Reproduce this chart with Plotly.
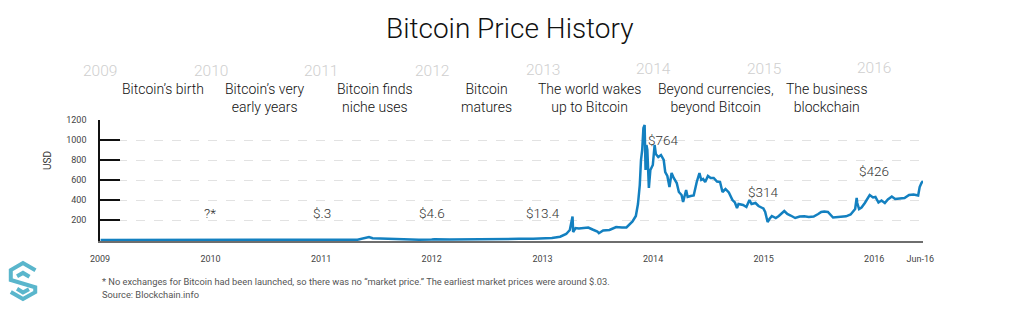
import plotly.graph_objects as go

# ---------------- data ----------------
dates = [
    "2009-01-03", "2009-06-01", "2010-01-01", "2010-07-17", "2010-11-01",
    "2011-01-01", "2011-02-10", "2011-04-01", "2011-05-01", "2011-06-08",
    "2011-06-20", "2011-07-15", "2011-08-15", "2011-09-15", "2011-10-20",
    "2011-11-20", "2012-01-01", "2012-01-10", "2012-03-01", "2012-05-01",
    "2012-06-15", "2012-08-15", "2012-09-01", "2012-10-15", "2012-12-01",
    "2013-01-01", "2013-02-01", "2013-02-28", "2013-03-20", "2013-04-01",
    "2013-04-10", "2013-04-12", "2013-04-20", "2013-05-01", "2013-05-15",
    "2013-06-01", "2013-06-15", "2013-07-01", "2013-07-06", "2013-07-20",
    "2013-08-10", "2013-09-01", "2013-09-20", "2013-10-05", "2013-10-25",
    "2013-11-05", "2013-11-12", "2013-11-18", "2013-11-22", "2013-11-26",
    "2013-11-30", "2013-12-04", "2013-12-07", "2013-12-10", "2013-12-13",
    "2013-12-18", "2013-12-23", "2013-12-31", "2014-01-06", "2014-01-10",
    "2014-01-18", "2014-01-27", "2014-02-05", "2014-02-10", "2014-02-17",
    "2014-02-24", "2014-03-03", "2014-03-10", "2014-03-20", "2014-03-27",
    "2014-04-05", "2014-04-10", "2014-04-20", "2014-04-25", "2014-05-05",
    "2014-05-15", "2014-05-25", "2014-06-03", "2014-06-09", "2014-06-15",
    "2014-06-22", "2014-07-01", "2014-07-10", "2014-07-20", "2014-07-31",
    "2014-08-10", "2014-08-18", "2014-08-28", "2014-09-08", "2014-09-20",
    "2014-09-28", "2014-10-05", "2014-10-10", "2014-10-25", "2014-11-05",
    "2014-11-15", "2014-11-22", "2014-12-05", "2014-12-15", "2014-12-31",
    "2015-01-06", "2015-01-14", "2015-01-20", "2015-01-28", "2015-02-10",
    "2015-02-20", "2015-03-10", "2015-03-20", "2015-03-31", "2015-04-15",
    "2015-04-30", "2015-05-15", "2015-05-30", "2015-06-15", "2015-06-30",
    "2015-07-10", "2015-07-20", "2015-08-01", "2015-08-18", "2015-08-30",
    "2015-09-15", "2015-09-30", "2015-10-15", "2015-10-30", "2015-11-04",
    "2015-11-06", "2015-11-12", "2015-11-20", "2015-12-01", "2015-12-10",
    "2015-12-17", "2015-12-28", "2016-01-05", "2016-01-15", "2016-01-25",
    "2016-02-05", "2016-02-15", "2016-02-28", "2016-03-10", "2016-03-25",
    "2016-04-10", "2016-04-25", "2016-05-10", "2016-05-25", "2016-05-30",
    "2016-06-05", "2016-06-10",
]
prices = [
    0, 0, 0, 0.05, 0.3,
    0.3, 1, 0.8, 3, 30,
    17, 14, 11, 5, 2.5,
    2.5, 5, 7, 5, 5,
    6.5, 12, 10, 12, 13,
    13.4, 20, 33, 60, 100,
    235, 80, 120, 115, 120,
    125, 105, 85, 68, 95,
    100, 130, 125, 125, 185,
    240, 360, 550, 800, 900,
    1120, 1150, 700, 950, 900,
    520, 700, 750, 950, 860,
    830, 850, 800, 680, 640,
    530, 670, 620, 570, 480,
    450, 380, 500, 430, 440,
    445, 580, 670, 600, 610,
    580, 640, 620, 620, 585,
    580, 480, 510, 475, 400,
    375, 320, 360, 350, 330,
    400, 360, 370, 340, 315,
    280, 180, 210, 240, 220,
    240, 290, 260, 245, 220,
    235, 237, 230, 235, 260,
    280, 285, 280, 225, 230,
    230, 237, 255, 310, 420,
    370, 310, 325, 370, 420,
    450, 425, 430, 375, 395,
    370, 405, 435, 410, 415,
    420, 450, 455, 445, 530,
    570, 590,
]

x_tick_vals = ["2009-01-01", "2010-01-01", "2011-01-01", "2012-01-01", "2013-01-01",
               "2014-01-01", "2015-01-01", "2016-01-01", "2016-06-01"]
x_tick_text = ["2009", "2010", "2011", "2012", "2013", "2014", "2015", "2016", "Jun-16"]
y_tick_vals = [200, 400, 600, 800, 1000, 1200]

top_years = ["2009", "2010", "2011", "2012", "2013", "2014", "2015", "2016"]
eras = ["Bitcoin’s birth", "Bitcoin’s very<br>early years", "Bitcoin finds<br>niche uses",
        "Bitcoin<br>matures", "The world wakes<br>up to Bitcoin",
        "Beyond currencies,<br>beyond Bitcoin", "The business<br>blockchain"]
price_labels = ["?*", "$.3", "$4.6", "$13.4", "$764", "$314", "$426"]

FONT = "Roboto"
BLUE = "#1380c0"

# plot area in pixels
L, R, T, B = 100, 923, 120, 241
W, H = 1024, 310


def px(x):
    return (x - L) / (R - L)


def py(y):
    return (B - y) / (B - T)


fig = go.Figure()
fig.add_trace(go.Scatter(x=dates, y=prices, mode="lines",
                         line=dict(color=BLUE, width=2.5), hoverinfo="skip"))

ann = []
# title
ann.append(dict(text="Bitcoin Price History", x=px(510), y=py(28), xref="paper", yref="paper",
                showarrow=False, font=dict(family=FONT, size=28, color="#111", weight=300),
                xanchor="center", yanchor="middle"))
# top year labels
top_y = [71, 71, 71, 71, 70, 69, 69, 68]
for yr, yy in zip(top_years, top_y):
    ann.append(dict(text=yr, x=f"{yr}-01-01", y=py(yy), xref="x", yref="paper",
                    showarrow=False, font=dict(family=FONT, size=15.5, color="#cfcfcf", weight=300),
                    xanchor="center", yanchor="middle"))
# era labels
era_x = [163, 265, 375, 486, 589, 716, 827]
for t, ex in zip(eras, era_x):
    ann.append(dict(text=t, x=px(ex), y=py(79), xref="paper", yref="paper",
                    showarrow=False, font=dict(family=FONT, size=14, color="#111", weight=300),
                    xanchor="center", yanchor="top", align="center"))
# price labels on the chart
lab_pos = [(210, 213), (322, 213), (432, 213), (543, 213), (663, 140), (763, 192), (874, 171)]
for t, (lx, ly) in zip(price_labels, lab_pos):
    ann.append(dict(text=t, x=px(lx), y=py(ly), xref="paper", yref="paper",
                    showarrow=False, font=dict(family=FONT, size=13.5, color="#333", weight=300),
                    xanchor="center", yanchor="middle"))
# axis title
ann.append(dict(text="USD", x=px(47), y=py(161), xref="paper", yref="paper", textangle=-90,
                showarrow=False, font=dict(family=FONT, size=10, color="#333"),
                xanchor="center", yanchor="middle"))
# footnotes
ann.append(dict(text="* No exchanges for Bitcoin had been launched, so there was no “market price.” "
                     "The earliest market prices were around $.03.",
                x=px(100), y=py(281), xref="paper", yref="paper", showarrow=False,
                font=dict(family=FONT, size=9.3, color="#555"), xanchor="left", yanchor="middle"))
ann.append(dict(text="Source: Blockchain.info", x=px(100), y=py(294), xref="paper", yref="paper",
                showarrow=False, font=dict(family=FONT, size=9.3, color="#555"),
                xanchor="left", yanchor="middle"))


# logo (S made of hexagon strokes)
def lp(zx, zy):
    return px(10 + (zx - 35) * 0.26), py(262 + (zy - 15) * 0.26)


def path(pts):
    s = ""
    for i, (a, b) in enumerate(pts):
        x, y = lp(a, b)
        s += ("M" if i == 0 else "L") + f"{x:.4f},{y:.4f} "
    return s


LOGO = "#5ab6cc"
shapes = [
    dict(type="path", xref="paper", yref="paper",
         path=path([(133, 47), (85, 19), (38, 46), (38, 84), (132, 112), (132, 131), (85, 157), (38, 130)]),
         line=dict(color=LOGO, width=4)),
    dict(type="path", xref="paper", yref="paper",
         path=path([(110, 72), (85, 57), (62, 70)]),
         line=dict(color=LOGO, width=4)),
    dict(type="path", xref="paper", yref="paper",
         path=path([(62, 118), (85, 132), (108, 120)]),
         line=dict(color=LOGO, width=4)),
]

fig.update_layout(
    width=W, height=H,
    margin=dict(l=L, r=W - R, t=T, b=H - B),
    paper_bgcolor="white", plot_bgcolor="white",
    showlegend=False,
    annotations=ann,
    shapes=shapes,
    xaxis=dict(type="date", range=["2009-01-01", "2016-06-10"],
               tickmode="array", tickvals=x_tick_vals, ticktext=x_tick_text,
               showgrid=False, zeroline=False, showline=True, linecolor="#6e6e6e", linewidth=2,
               ticks="", tickfont=dict(family=FONT, size=9, color="#444"),
               ticklabelstandoff=8),
    yaxis=dict(range=[-10, 1200], tickmode="array", tickvals=y_tick_vals,
               showgrid=True, gridcolor="#e2e2e2", griddash="dash", gridwidth=1,
               zeroline=False, showline=True, linecolor="#111", linewidth=1.5,
               ticks="inside", ticklen=20, tickwidth=1.5, tickcolor="#111",
               tickfont=dict(family=FONT, size=9, color="#444"),
               ticklabelstandoff=10),
)

fig.write_html("out.html")
